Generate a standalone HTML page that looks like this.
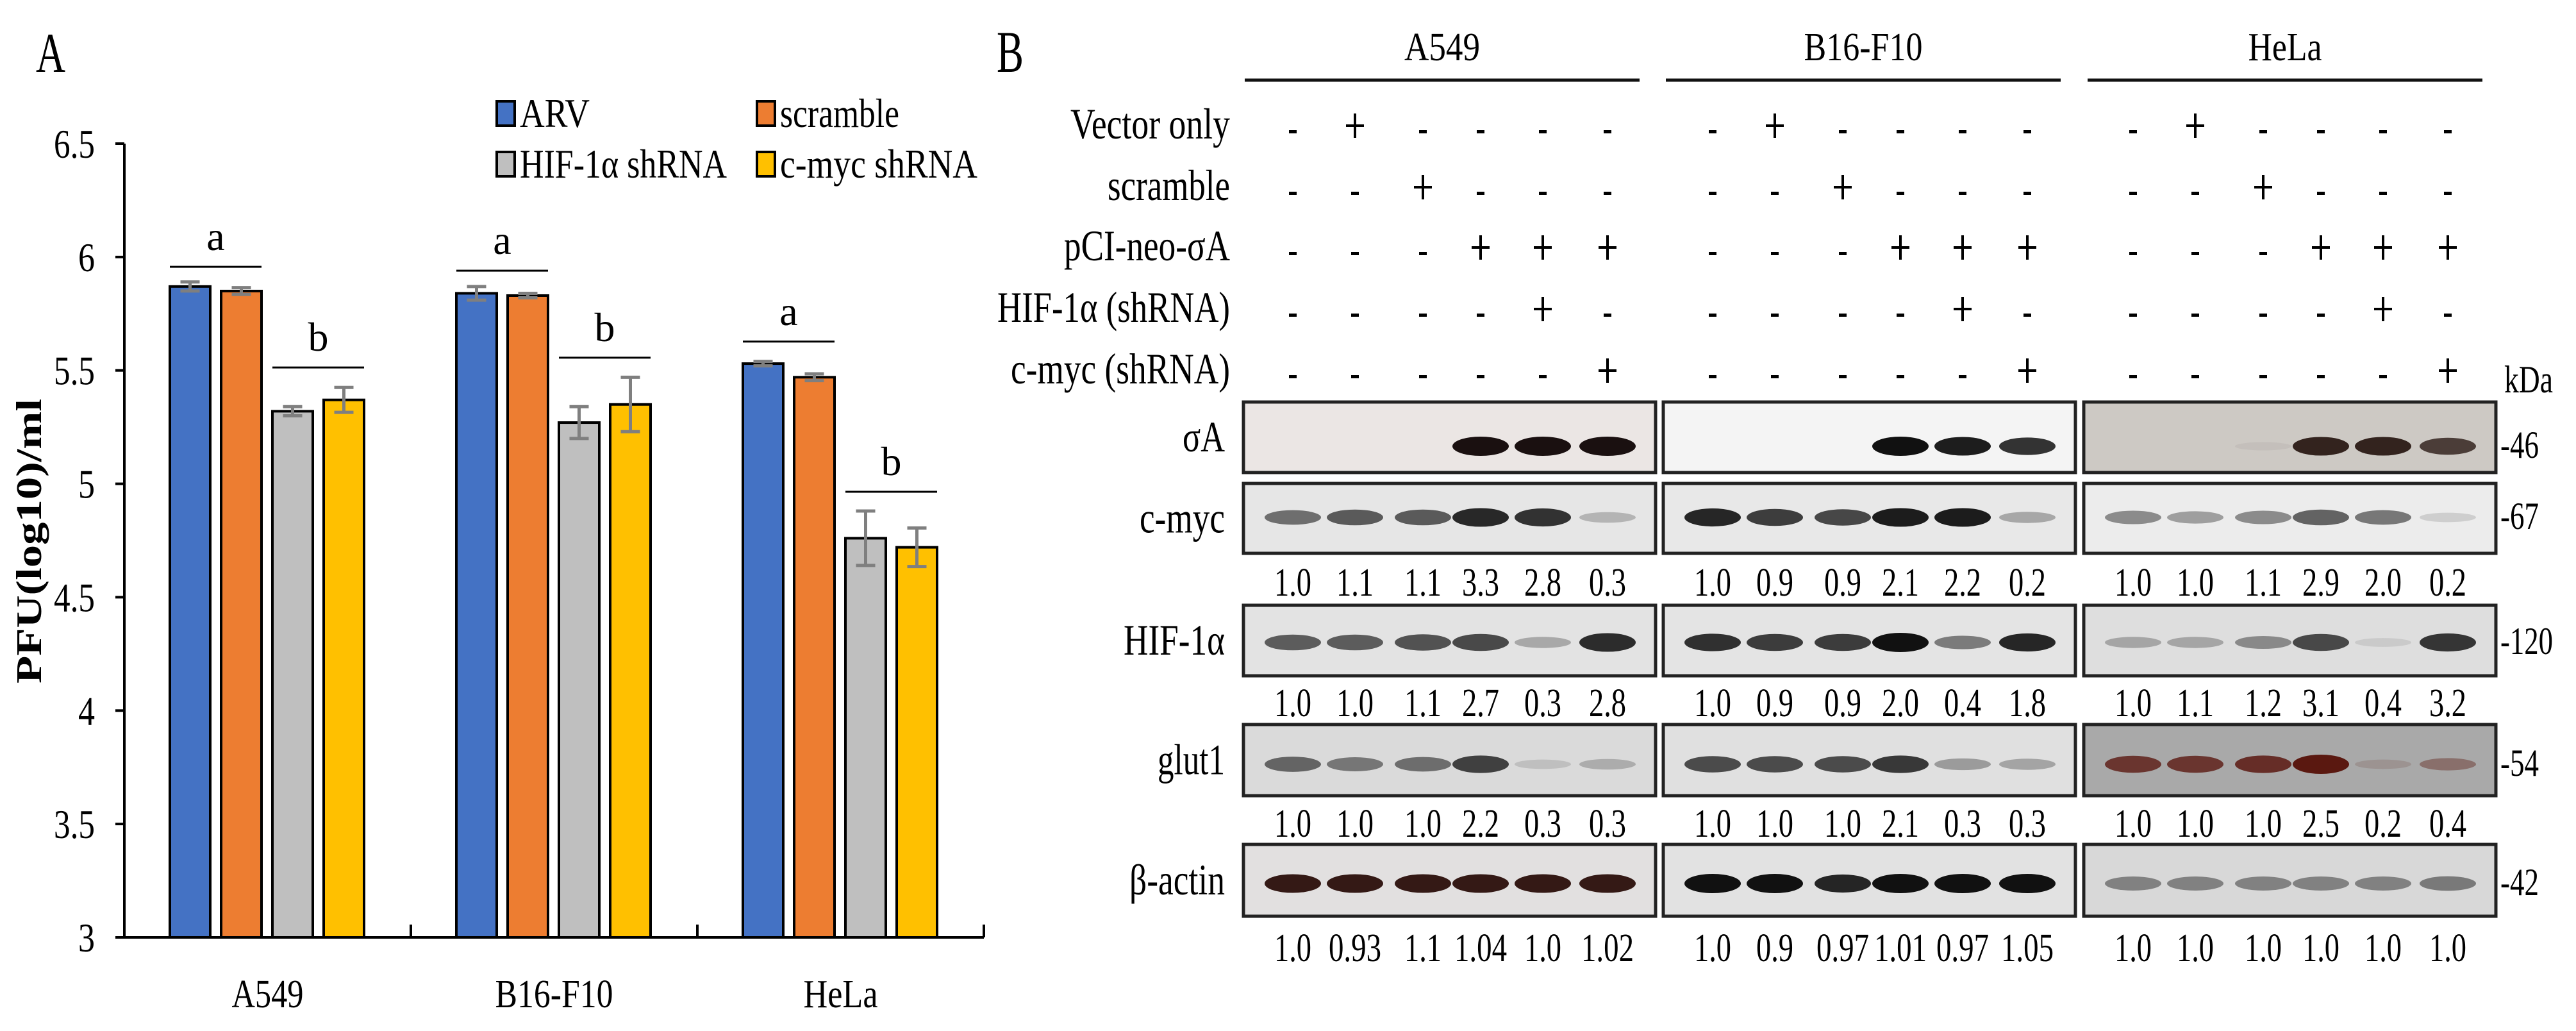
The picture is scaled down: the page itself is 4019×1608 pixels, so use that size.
<!DOCTYPE html>
<html><head><meta charset="utf-8">
<style>
html,body{margin:0;padding:0;background:#fff;}
svg{display:block;}
text{font-family:"Liberation Serif",serif;fill:#000;}
</style></head>
<body>
<svg id="fig" width="4019" height="1608" viewBox="0 0 4019 1608" xmlns="http://www.w3.org/2000/svg">
  <rect x="0" y="0" width="4019" height="1608" fill="#fff"/>
  <text x="56" y="112" font-size="88" textLength="46" lengthAdjust="spacingAndGlyphs">A</text>
  <text x="1555" y="112" font-size="92" textLength="42" lengthAdjust="spacingAndGlyphs">B</text>
  <g id="chartA"></g>
  <g id="panelB"></g>
</svg>
<script>
// ---------- Panel A data ----------
const categories = ["A549", "B16-F10", "HeLa"];
const seriesNames = ["ARV", "scramble", "HIF-1α shRNA", "c-myc  shRNA"];
const seriesColors = ["#4472c4", "#ed7d31", "#bfbfbf", "#ffc000"];
const arvValues = [5.87, 5.84, 5.53];
const scrambleValues = [5.85, 5.83, 5.47];
const hifValues = [5.32, 5.27, 4.76];
const mycValues = [5.37, 5.35, 4.72];
const arvErr = [0.02, 0.03, 0.01];
const scrambleErr = [0.015, 0.01, 0.015];
const hifErr = [0.02, 0.07, 0.12];
const mycErr = [0.055, 0.12, 0.085];
const yTicks = [3, 3.5, 4, 4.5, 5, 5.5, 6, 6.5];
const yTickLabels = ["3", "3.5", "4", "4.5", "5", "5.5", "6", "6.5"];
const sigA = [5.957, 5.94, 5.627];
const sigB = [5.513, 5.556, 4.965];

const NS = "http://www.w3.org/2000/svg";
function mk(tag, attrs, parent) {
  const e = document.createElementNS(NS, tag);
  for (const k in attrs) e.setAttribute(k, attrs[k]);
  parent.appendChild(e);
  return e;
}
const chart = document.getElementById("chartA");
const X0 = 194, X1 = 1535, YT = 224, YB = 1462, VMIN = 3, VMAX = 6.5;
const catW = (X1 - X0) / categories.length;
function yScale(v) { return YB - (v - VMIN) / (VMAX - VMIN) * (YB - YT); }
function xCat(i) { return X0 + i * catW; }
const barW = 63, barStep = 80, groupOff = 71;
function xBar(ci, si) { return xCat(ci) + groupOff + si * barStep; }

// y ticks
yTicks.forEach((t, i) => {
  const y = yScale(t);
  const tk = mk("line", {x1: X0 - 14, x2: X0, y1: y, y2: y, stroke: "#000", "stroke-width": 4}, chart);
  
  
  const lab = yTickLabels[i];
  const tx = mk("text", {x: 148, y: y + 22, "font-size": 64, "text-anchor": "end", textLength: lab.length === 1 ? 26 : 64, lengthAdjust: "spacingAndGlyphs"}, chart);
  tx.textContent = lab;
  
  
});
// y title
const yt = mk("text", {x: 0, y: 0, "font-size": 56, "font-weight": "bold", "text-anchor": "middle", transform: "translate(64,844) rotate(-90)", textLength: 444, lengthAdjust: "spacingAndGlyphs"}, chart);
yt.textContent = "PFU(log10)/ml";



const allVals = [arvValues, scrambleValues, hifValues, mycValues];
const allErr = [arvErr, scrambleErr, hifErr, mycErr];
categories.forEach((c, ci) => {
  allVals.forEach((vals, si) => {
    const x = xBar(ci, si), y = yScale(vals[ci]);
    const b = mk("rect", {x: x, y: y, width: barW, height: YB - y, fill: seriesColors[si], stroke: "#000", "stroke-width": 4}, chart);
    
    
    const e = allErr[si][ci];
    const cx = x + barW / 2, y1 = yScale(vals[ci] + e), y2 = yScale(vals[ci] - e);
    const eg = mk("path", {d: `M${cx} ${y1}V${y2}M${cx-15} ${y1}H${cx+15}M${cx-15} ${y2}H${cx+15}`, stroke: "#7f7f7f", "stroke-width": 5, fill: "none"}, chart);
    
    
  });
  // significance
  [[sigA, "a", 0], [sigB, "b", 2]].forEach(([arr, letter, s0]) => {
    const y = yScale(arr[ci]);
    const xa = xBar(ci, s0), xb = xBar(ci, s0 + 1) + barW;
    const ln = mk("line", {x1: xa, x2: xb, y1: y, y2: y, stroke: "#000", "stroke-width": 3}, chart);
    
    
    const t = mk("text", {x: (xa + xb) / 2, y: y - 26, "font-size": 64, "text-anchor": "middle"}, chart);
    t.textContent = letter;
    
    
  });
  const xl = mk("text", {x: xCat(ci) + catW / 2, y: 1571, "font-size": 62, "text-anchor": "middle", textLength: [112, 184, 116][ci], lengthAdjust: "spacingAndGlyphs"}, chart);
  xl.textContent = c;
  
  
  const ct = mk("line", {x1: xCat(ci + 1), x2: xCat(ci + 1), y1: YB - 20, y2: YB, stroke: "#000", "stroke-width": 4}, chart);
  
  
});
const ax = mk("path", {d: `M${X0} ${YT}V${YB}H${X1}`, stroke: "#000", "stroke-width": 4, fill: "none"}, chart);


// legend
const legPos = [[775, 158], [1181, 158], [775, 237], [1181, 237]];
const legW = [109, 186, 323, 308];
seriesNames.forEach((n, i) => {
  const [lx, ly] = legPos[i];
  const sw = mk("rect", {x: lx, y: ly, width: 28, height: 38, fill: seriesColors[i], stroke: "#000", "stroke-width": 4}, chart);
  
  
  const t = mk("text", {x: lx + 36, y: ly + 40, "font-size": 64, textLength: legW[i], lengthAdjust: "spacingAndGlyphs"}, chart);
  t.textContent = n;
  
  
});

// ---------- Panel B ----------
const cellLines = ["A549", "B16-F10", "HeLa"];
const treatmentNames = ["Vector only", "scramble", "pCI-neo-σA", "HIF-1α (shRNA)", "c-myc (shRNA)"];
const treatmentMatrix = [
  [0,1,0,0,0,0],
  [0,0,1,0,0,0],
  [0,0,0,1,1,1],
  [0,0,0,0,1,0],
  [0,0,0,0,0,1]
];
const blotNames = ["σA", "c-myc", "HIF-1α", "glut1", "β-actin"];
const kdaLabels = ["-46", "-67", "-120", "-54", "-42"];
const cmycQuant = [["1.0","1.1","1.1","3.3","2.8","0.3"],["1.0","0.9","0.9","2.1","2.2","0.2"],["1.0","1.0","1.1","2.9","2.0","0.2"]];
const hifQuant = [["1.0","1.0","1.1","2.7","0.3","2.8"],["1.0","0.9","0.9","2.0","0.4","1.8"],["1.0","1.1","1.2","3.1","0.4","3.2"]];
const glutQuant = [["1.0","1.0","1.0","2.2","0.3","0.3"],["1.0","1.0","1.0","2.1","0.3","0.3"],["1.0","1.0","1.0","2.5","0.2","0.4"]];
const actinQuant = [["1.0","0.93","1.1","1.04","1.0","1.02"],["1.0","0.9","0.97","1.01","0.97","1.05"],["1.0","1.0","1.0","1.0","1.0","1.0"]];
const sigmaBand = [[0,0,0,1,1,1],[0,0,0,1,0.95,0.85],[0,0,0.05,0.95,0.95,0.8]];
const cmycBand = [[0.6,0.7,0.7,0.95,0.9,0.25],[0.9,0.8,0.75,0.95,0.95,0.3],[0.5,0.4,0.5,0.7,0.6,0.15]];
const hifBand = [[0.7,0.7,0.75,0.8,0.3,0.95],[0.85,0.8,0.8,1,0.5,0.9],[0.3,0.3,0.45,0.8,0.1,0.9]];
const glutBand = [[0.65,0.55,0.6,0.85,0.15,0.25],[0.75,0.75,0.75,0.85,0.35,0.3],[0.8,0.8,0.85,1,0.15,0.4]];
const actinBand = [[0.95,0.95,0.95,0.95,0.95,0.95],[1,1,0.9,1,1,1],[0.55,0.55,0.55,0.55,0.55,0.6]];

const pb = document.getElementById("panelB");
const boxX = [1940, 2595, 3251], boxW = 643;
const laneOff = [77, 174, 280, 370, 467, 568];
function lane(g, l) { return boxX[g] + laneOff[l]; }
const headerW = [118, 185, 115];
const lineX = [[1942, 2558], [2599, 3215], [3257, 3873]];
cellLines.forEach((c, g) => {
  const t = mk("text", {x: (lineX[g][0] + lineX[g][1]) / 2, y: 94, "font-size": 62, "text-anchor": "middle", textLength: headerW[g], lengthAdjust: "spacingAndGlyphs"}, pb);
  t.textContent = c;
  
  
  const l = mk("line", {x1: lineX[g][0], x2: lineX[g][1], y1: 125, y2: 125, stroke: "#111", "stroke-width": 5}, pb);
  
  
});
const rowY = [196, 292, 386, 482, 578];
const rowLabelW = [249, 191, 259, 363, 342];
treatmentNames.forEach((n, r) => {
  const t = mk("text", {x: 1919, y: rowY[r] + 20, "font-size": 68, "text-anchor": "end", textLength: rowLabelW[r], lengthAdjust: "spacingAndGlyphs"}, pb);
  t.textContent = n;
  
  
  cellLines.forEach((c, g) => {
    treatmentMatrix[r].forEach((v, l) => {
      const x = lane(g, l), y = rowY[r];
      let e;
      if (v) {
        e = mk("path", {d: `M${x} ${y-19}V${y+19}M${x-14} ${y}H${x+14}`, stroke: "#000", "stroke-width": 4, fill: "none"}, pb);
        
      } else {
        e = mk("rect", {x: x - 6, y: y + 7, width: 12, height: 5, fill: "#000"}, pb);
        
      }
      
    });
  });
});
const kd = mk("text", {x: 3907, y: 612, "font-size": 60, textLength: 76, lengthAdjust: "spacingAndGlyphs"}, pb);
kd.textContent = "kDa";



const boxTop = [627, 754, 944, 1130, 1317];
const boxH = [110, 109, 110, 111, 112];
const bandYOff = [69, 53, 58, 62, 61];
const bgs = [["#ebe6e4","#f4f4f4","#cdc9c4"],["#e6e6e6","#e8e8e8","#ececec"],["#e3e3e3","#e4e4e4","#dedede"],["#dadada","#e0e0e0","#a9a9a9"],["#e2e0e0","#e2e2e2","#d8d8d8"]];
const bandColors = [["#1a1010","#111","#2a1a15"],["#1e1e1e","#111","#2a2a2a"],["#222","#111","#222"],["#252525","#1a1a1a","#5a1810"],["#2a0e0a","#111","#3a3a3a"]];
const bandSets = [sigmaBand, cmycBand, hifBand, glutBand, actinBand];
const quantSets = [null, cmycQuant, hifQuant, glutQuant, actinQuant];
const blotLabelW = [66, 133, 158, 105, 149];
const quantY = [null, 907, 1095, 1283, 1477];
function numW(s) { let w = 0; for (const ch of s) w += ch === "." ? 10 : 24; return w; }
blotNames.forEach((bn, b) => {
  const t = mk("text", {x: 1911, y: boxTop[b] + boxH[b] / 2 + 22, "font-size": 68, "text-anchor": "end", textLength: blotLabelW[b], lengthAdjust: "spacingAndGlyphs"}, pb);
  t.textContent = bn;
  
  
  const k = mk("text", {x: 3901, y: boxTop[b] + bandYOff[b] + 18, "font-size": 60, textLength: kdaLabels[b].length === 4 ? 82 : 60, lengthAdjust: "spacingAndGlyphs"}, pb);
  k.textContent = kdaLabels[b];
  
  
  cellLines.forEach((c, g) => {
    const r = mk("rect", {x: boxX[g], y: boxTop[b], width: boxW, height: boxH[b], fill: bgs[b][g], stroke: "#222", "stroke-width": 5}, pb);
    
    
    bandSets[b][g].forEach((v, l) => {
      if (v <= 0) return;
      const e = mk("ellipse", {cx: lane(g, l), cy: boxTop[b] + bandYOff[b], rx: 44, ry: 6 + 9 * v, fill: bandColors[b][g], "fill-opacity": v}, pb);
      
      
    });
    if (quantSets[b]) {
      quantSets[b][g].forEach((s, l) => {
        const q = mk("text", {x: lane(g, l), y: quantY[b] + 22, "font-size": 62, "text-anchor": "middle", textLength: numW(s), lengthAdjust: "spacingAndGlyphs"}, pb);
        q.textContent = s;
        
        
      });
    }
  });
});
</script>
</body></html>
